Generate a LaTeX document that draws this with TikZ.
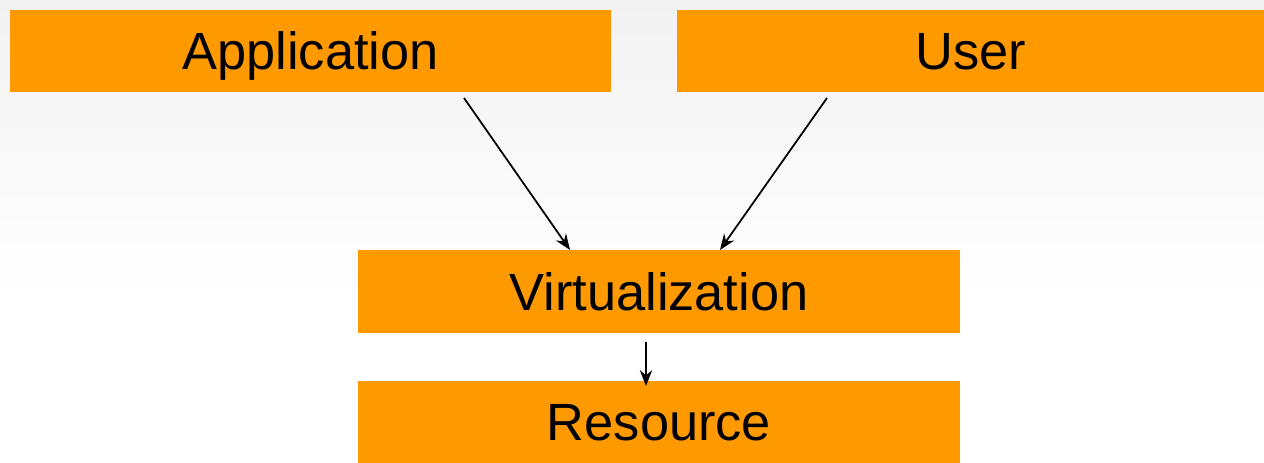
\documentclass[tikz,border=0pt]{standalone}
\usepackage{fontspec}
\setmainfont{Liberation Sans}
\usetikzlibrary{arrows.meta}
\definecolor{boxorange}{HTML}{FF9900}
\definecolor{bgtop}{HTML}{F2F2F2}
\begin{document}
\begin{tikzpicture}[x=0.02cm,y=-0.02cm,
  box/.style={fill=boxorange,draw=none,inner sep=0pt,text height=21.3pt,text depth=0pt,font=\fontsize{29.8pt}{32pt}\selectfont},
  arr/.style={draw=black,line width=1pt,-{Stealth[length=9pt,width=7pt]}}]
\useasboundingbox (0,0) rectangle (1264,463);
\shade[top color=bgtop,bottom color=white] (0,0) rectangle (1264,300);
\fill[white] (0,300) rectangle (1264,463);
\node[box,minimum width=601*0.02cm,minimum height=82*0.02cm] (app) at (310.5,51) {Application};
\node[box,minimum width=587*0.02cm,minimum height=82*0.02cm] (user) at (970.5,51) {User};
\node[box,minimum width=602*0.02cm,minimum height=83*0.02cm] (virt) at (659,291.5) {Virtualization};
\node[box,minimum width=602*0.02cm,minimum height=82*0.02cm] (res) at (659,422) {Resource};
\coordinate (a1) at (464,98);
\coordinate (u1) at (827,98);
\coordinate (v1) at (570,250);
\coordinate (v2) at (720,250);
\coordinate (v3) at (646,342);
\coordinate (r1) at (646,386);
\draw[arr] (a1) -- (v1);
\draw[arr] (u1) -- (v2);
\draw[arr] (v3) -- (r1);
\end{tikzpicture}
\end{document}
